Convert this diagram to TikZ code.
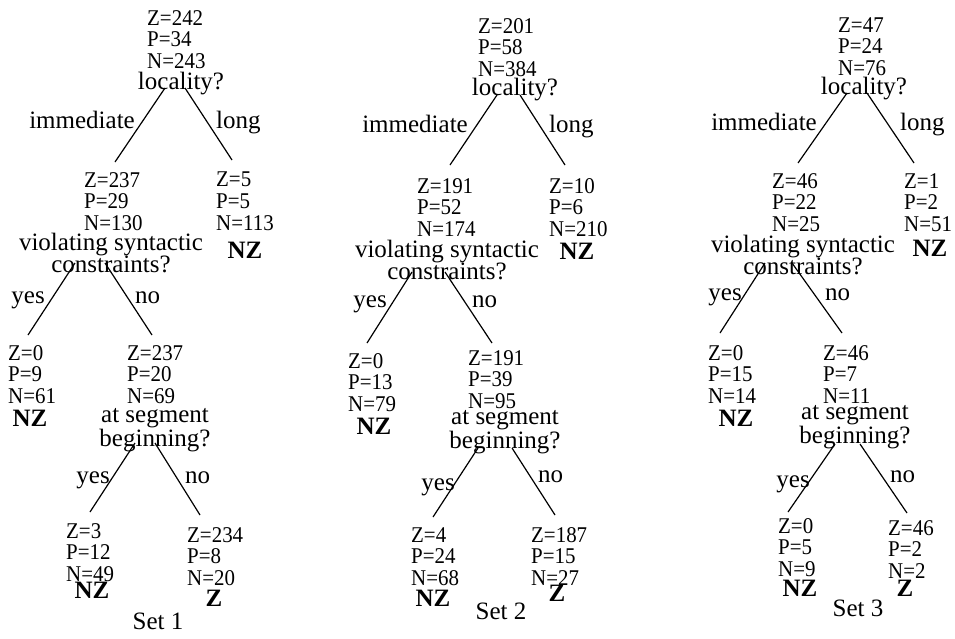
\documentclass[tikz,border=0pt]{standalone}
\usepackage{fontspec}
\setmainfont{Liberation Serif}
\newfontfamily\countfont[FakeStretch=0.93]{Liberation Serif}
\usetikzlibrary{calc}
\tikzset{
  counts/.style={anchor=north west, inner sep=0pt, align=left, font=\countfont\fontsize{22.5}{21.7}\selectfont},
  question/.style={anchor=north, inner sep=0pt, align=center, font=\fontsize{25}{22}\selectfont},
  edgelab/.style={inner sep=0pt, font=\fontsize{25}{26}\selectfont},
  decision/.style={anchor=north, inner sep=0pt, font=\fontsize{25}{26}\selectfont\bfseries},
  caption/.style={anchor=north, inner sep=0pt, font=\fontsize{25}{26}\selectfont},
  branch/.style={line width=1.2pt},
}
\begin{document}
\begin{tikzpicture}[x=1pt,y=-1pt]
\useasboundingbox (0,0) rectangle (955,638);

% ---------------- Set 1 ----------------
\node[counts] (s1c1) at (147,10) {Z=242\\P=34\\N=243};
\node[question] (s1q1) at (181,72) {locality?};
\node[counts] (s1c2) at (84,172) {Z=237\\P=29\\N=130};
\node[question] (s1q2) at (111,233) {violating syntactic\\constraints?};
\node[counts] (s1c3) at (216,172) {Z=5\\P=5\\N=113};
\node[decision] (s1k3) at (245,242) {NZ};
\node[counts] (s1c4) at (8,345) {Z=0\\P=9\\N=61};
\node[decision] (s1k4) at (30,410) {NZ};
\node[counts] (s1c5) at (127,345) {Z=237\\P=20\\N=69};
\node[question] (s1q5) at (155,408) {at segment\\beginning?};
\node[counts] (s1c6) at (66,523) {Z=3\\P=12\\N=49};
\node[decision] (s1k6) at (92,582) {NZ};
\node[counts] (s1c7) at (187,527) {Z=234\\P=8\\N=20};
\node[decision] (s1k7) at (214,590) {Z};
\node[caption] (s1cap) at (158,613) {Set 1};

\draw[branch] ($(s1q1.north)+(-16,16)$) -- ($(s1c2.north west)+(31,-10)$);
\draw[branch] ($(s1q1.north)+(4,16)$) -- ($(s1c3.north west)+(16,-12)$);
\draw[branch] ($(s1q2.north)+(-36,30)$) -- ($(s1c4.north west)+(20,-10)$);
\draw[branch] ($(s1q2.north)+(-6,30)$) -- ($(s1c5.north west)+(25,-10)$);
\draw[branch] ($(s1q5.north)+(-20,35)$) -- ($(s1c6.north west)+(24,-11)$);
\draw[branch] ($(s1q5.north)+(0,35)$) -- ($(s1c7.north west)+(13,-12)$);

\node[edgelab, anchor=base east] (s1l1) at (135,128) {immediate};
\node[edgelab, anchor=base west] (s1l2) at (216,128) {long};
\node[edgelab, anchor=base east] (s1l3) at (45,303) {yes};
\node[edgelab, anchor=base west] (s1l4) at (135,303) {no};
\node[edgelab, anchor=base east] (s1l5) at (110,483) {yes};
\node[edgelab, anchor=base west] (s1l6) at (185,483) {no};

% ---------------- Set 2 ----------------
\node[counts] (s2c1) at (478,18) {Z=201\\P=58\\N=384};
\node[question] (s2q1) at (515,78) {locality?};
\node[counts] (s2c2) at (417,178) {Z=191\\P=52\\N=174};
\node[question] (s2q2) at (447,240) {violating syntactic\\constraints?};
\node[counts] (s2c3) at (549,178) {Z=10\\P=6\\N=210};
\node[decision] (s2k3) at (577,243) {NZ};
\node[counts] (s2c4) at (348,353) {Z=0\\P=13\\N=79};
\node[decision] (s2k4) at (374,418) {NZ};
\node[counts] (s2c5) at (468,350) {Z=191\\P=39\\N=95};
\node[question] (s2q5) at (505,410) {at segment\\beginning?};
\node[counts] (s2c6) at (411,527) {Z=4\\P=24\\N=68};
\node[decision] (s2k6) at (433,590) {NZ};
\node[counts] (s2c7) at (531,527) {Z=187\\P=15\\N=27};
\node[decision] (s2k7) at (557,585) {Z};
\node[caption] (s2cap) at (501,603) {Set 2};

\draw[branch] ($(s2q1.north)+(-18,17)$) -- ($(s2c2.north west)+(33,-13)$);
\draw[branch] ($(s2q1.north)+(5,17)$) -- ($(s2c3.north west)+(16,-13)$);
\draw[branch] ($(s2q2.north)+(-35,32)$) -- ($(s2c4.north west)+(19,-10)$);
\draw[branch] ($(s2q2.north)+(-2,32)$) -- ($(s2c5.north west)+(24,-7)$);
\draw[branch] ($(s2q5.north)+(-27,38)$) -- ($(s2c6.north west)+(22,-10)$);
\draw[branch] ($(s2q5.north)+(7,38)$) -- ($(s2c7.north west)+(24,-12)$);

\node[edgelab, anchor=base east] (s2l1) at (468,132) {immediate};
\node[edgelab, anchor=base west] (s2l2) at (549,132) {long};
\node[edgelab, anchor=base east] (s2l3) at (387,307) {yes};
\node[edgelab, anchor=base west] (s2l4) at (472,307) {no};
\node[edgelab, anchor=base east] (s2l5) at (455,490) {yes};
\node[edgelab, anchor=base west] (s2l6) at (538,482) {no};

% ---------------- Set 3 ----------------
\node[counts] (s3c1) at (838,17) {Z=47\\P=24\\N=76};
\node[question] (s3q1) at (864,77) {locality?};
\node[counts] (s3c2) at (772,173) {Z=46\\P=22\\N=25};
\node[question] (s3q2) at (803,235) {violating syntactic\\constraints?};
\node[counts] (s3c3) at (904,173) {Z=1\\P=2\\N=51};
\node[decision] (s3k3) at (930,240) {NZ};
\node[counts] (s3c4) at (708,345) {Z=0\\P=15\\N=14};
\node[decision] (s3k4) at (736,410) {NZ};
\node[counts] (s3c5) at (823,345) {Z=46\\P=7\\N=11};
\node[question] (s3q5) at (855,405) {at segment\\beginning?};
\node[counts] (s3c6) at (778,518) {Z=0\\P=5\\N=9};
\node[decision] (s3k6) at (800,580) {NZ};
\node[counts] (s3c7) at (888,520) {Z=46\\P=2\\N=2};
\node[decision] (s3k7) at (905,580) {Z};
\node[caption] (s3cap) at (858,600) {Set 3};

\draw[branch] ($(s3q1.north)+(-17,16)$) -- ($(s3c2.north west)+(26,-10)$);
\draw[branch] ($(s3q1.north)+(3,16)$) -- ($(s3c3.north west)+(10,-10)$);
\draw[branch] ($(s3q2.north)+(-38,28)$) -- ($(s3c4.north west)+(12,-12)$);
\draw[branch] ($(s3q2.north)+(-11,28)$) -- ($(s3c5.north west)+(19,-12)$);
\draw[branch] ($(s3q5.north)+(-20,39)$) -- ($(s3c6.north west)+(10,-6)$);
\draw[branch] ($(s3q5.north)+(5,39)$) -- ($(s3c7.north west)+(19,-7)$);

\node[edgelab, anchor=base east] (s3l1) at (817,130) {immediate};
\node[edgelab, anchor=base west] (s3l2) at (900,130) {long};
\node[edgelab, anchor=base east] (s3l3) at (742,300) {yes};
\node[edgelab, anchor=base west] (s3l4) at (825,300) {no};
\node[edgelab, anchor=base east] (s3l5) at (810,487) {yes};
\node[edgelab, anchor=base west] (s3l6) at (890,482) {no};
\end{tikzpicture}
\end{document}
